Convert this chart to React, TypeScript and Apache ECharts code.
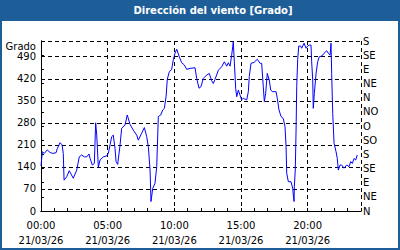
import React, { useEffect, useRef } from "react";
import * as echarts from "echarts";

const title = "Dirección del viento [Grado]";
const yAxisName = "Grado";
const dateLabel = "21/03/26";
const directions = ["N", "NE", "E", "SE", "S", "SO", "O", "NO", "N", "NE", "E", "SE", "S"];

const hours = [
  0.0, 0.1, 0.25, 0.47, 0.68, 0.88, 1.13, 1.22, 1.43, 1.58, 1.67, 1.73, 1.93, 2.12, 2.42, 2.68, 2.87,
  3.05, 3.25, 3.43, 3.6, 3.68, 3.85, 4.0, 4.1, 4.18, 4.3, 4.43, 4.67, 4.93, 5.05, 5.18, 5.3, 5.42,
  5.55, 5.63, 5.75, 5.93, 6.05, 6.3, 6.47, 6.68, 6.92, 7.18, 7.3, 7.55, 7.75, 7.93, 8.05, 8.18, 8.25,
  8.38, 8.55, 8.68, 8.8, 8.98, 9.13, 9.25, 9.38, 9.47, 9.62, 9.8, 9.92, 10.05, 10.18, 10.37, 10.55,
  10.75, 10.93, 11.18, 11.55, 11.68, 11.85, 12.0, 12.17, 12.43, 12.62, 12.8, 12.92, 13.05, 13.3,
  13.55, 13.75, 13.93, 14.05, 14.18, 14.3, 14.38, 14.42, 14.5, 14.6, 14.68, 14.8, 14.93, 15.05,
  15.17, 15.43, 15.55, 15.62, 15.75, 15.98, 16.22, 16.43, 16.55, 16.67, 16.75, 16.85, 16.97, 17.12,
  17.23, 17.38, 17.63, 17.72, 17.85, 18.0, 18.17, 18.3, 18.38, 18.43, 18.55, 18.75, 18.88, 18.92,
  18.98, 19.0, 19.07, 19.13, 19.18, 19.25, 19.33, 19.48, 19.55, 19.73, 19.88, 20.0, 20.12, 20.25,
  20.3, 20.38, 20.42, 20.5, 20.63, 20.75, 20.87, 21.05, 21.23, 21.43, 21.55, 21.68, 21.75, 21.8,
  21.88, 21.98, 22.13, 22.22, 22.3, 22.43, 22.55, 22.73, 22.93, 23.1, 23.23, 23.35, 23.48, 23.6, 23.72,
];

const degrees = [
  143, 188, 183, 194, 186, 183, 185, 198, 217, 210, 183, 98, 109, 128, 104, 130, 172,
  178, 172, 172, 181, 167, 146, 151, 280, 241, 139, 162, 172, 175, 183, 210, 236, 241,
  199, 157, 148, 210, 263, 273, 305, 275, 257, 241, 225, 247, 265, 236, 204, 130, 30,
  72, 88, 141, 300, 305, 321, 326, 363, 418, 442, 450, 480, 501, 514, 490, 471,
  464, 450, 453, 455, 421, 390, 395, 421, 432, 437, 414, 405, 418, 447,
  458, 474, 460, 471, 460, 495, 522, 538, 474, 390, 363, 384, 368, 353,
  358, 353, 379, 427, 469, 472, 482, 469, 469, 395, 347, 374, 437, 416,
  384, 379, 379, 358, 321, 300, 294, 268, 204, 120, 93, 93, 72, 51,
  30, 77, 130, 257, 395, 480, 524, 524, 517, 533, 517, 524, 527, 527,
  474, 416, 326, 374, 437, 474, 490, 492, 501, 509, 501, 495, 533, 437,
  310, 215, 188, 167, 130, 146, 146, 136, 146, 141, 157, 151, 167, 162, 178,
];

const FONT = "DejaVu Sans";
const BLUE = "#1d5d98";

export default function App() {
  const ref = useRef<HTMLDivElement>(null);
  useEffect(() => {
    if (!ref.current) return;
    const chart = echarts.init(ref.current, null, { renderer: "svg" });
    const dash = { color: "#000", width: 1, type: [4, 3] as any };
    chart.setOption({
      animation: false,
      backgroundColor: "#ffffff",
      textStyle: { fontFamily: FONT, fontSize: 10, color: "#000" },
      grid: { left: 41, right: 39, top: 41, bottom: 39 },
      xAxis: [
        {
          type: "value",
          min: 0,
          max: 24,
          interval: 1,
          position: "bottom",
          axisLine: { show: true, lineStyle: { color: "#000", width: 1 } },
          axisTick: { show: true, inside: true, length: 3, lineStyle: { color: "#000" } },
          axisLabel: {
            margin: 7,
            fontFamily: FONT,
            fontSize: 10,
            color: "#000",
            lineHeight: 15,
            formatter: (v: number) =>
              v % 5 === 0 && v < 24 ? `${String(v).padStart(2, "0")}:00\n${dateLabel}` : "",
          },
          splitLine: { show: false },
        },
        {
          type: "value",
          min: 0,
          max: 24,
          interval: 5,
          position: "top",
          axisLine: { show: true, lineStyle: { color: "#000", width: 1 } },
          axisTick: { show: false },
          axisLabel: { show: false },
          splitLine: { show: true, lineStyle: dash },
        },
      ],
      yAxis: [
        {
          type: "value",
          min: 0,
          max: 540,
          interval: 70,
          position: "left",
          axisLine: { show: true, lineStyle: { color: "#000", width: 1 } },
          axisTick: { show: false },
          axisLabel: { margin: 5, showMaxLabel: false, fontFamily: FONT, fontSize: 10, color: "#000" },
          splitLine: { show: true, lineStyle: dash },
        },
        {
          type: "value",
          min: 0,
          max: 540,
          interval: 45,
          position: "right",
          axisLine: { show: true, lineStyle: { color: "#000", width: 1 } },
          axisTick: { show: true, inside: false, length: 3, lineStyle: { color: "#000" } },
          axisLabel: {
            margin: 2,
            fontFamily: FONT,
            fontSize: 10,
            color: "#000",
            formatter: (v: number) => directions[Math.round(v / 45)] ?? "",
          },
          splitLine: { show: false },
        },
      ],
      series: [
        {
          type: "line",
          xAxisIndex: 0,
          yAxisIndex: 0,
          showSymbol: false,
          symbol: "none",
          lineStyle: { color: "#0000ff", width: 1 },
          data: hours.map((h, i) => [h, degrees[i]]),
        },
      ],
      graphic: [
        { type: "rect", left: 0, top: 0, shape: { x: 0, y: 0, width: 400, height: 21 }, style: { fill: BLUE }, silent: true },
        { type: "rect", shape: { x: 0, y: 0, width: 2, height: 250 }, style: { fill: BLUE }, silent: true },
        { type: "rect", shape: { x: 398, y: 0, width: 2, height: 250 }, style: { fill: BLUE }, silent: true },
        { type: "rect", shape: { x: 0, y: 248, width: 400, height: 2 }, style: { fill: BLUE }, silent: true },
        {
          type: "text",
          x: 213,
          y: 10.5,
          style: {
            text: title,
            fill: "#ffffff",
            font: `bold 10px '${FONT}'`,
            textAlign: "center",
            textVerticalAlign: "middle",
          },
          silent: true,
        },
        {
          type: "text",
          x: 36,
          y: 46,
          style: {
            text: yAxisName,
            fill: "#000",
            font: `10px '${FONT}'`,
            textAlign: "right",
            textVerticalAlign: "middle",
          },
          silent: true,
        },
      ],
    });
    return () => chart.dispose();
  }, []);
  return <div ref={ref} style={{ width: 400, height: 250, position: "absolute", left: 0, top: 0 }} />;
}
